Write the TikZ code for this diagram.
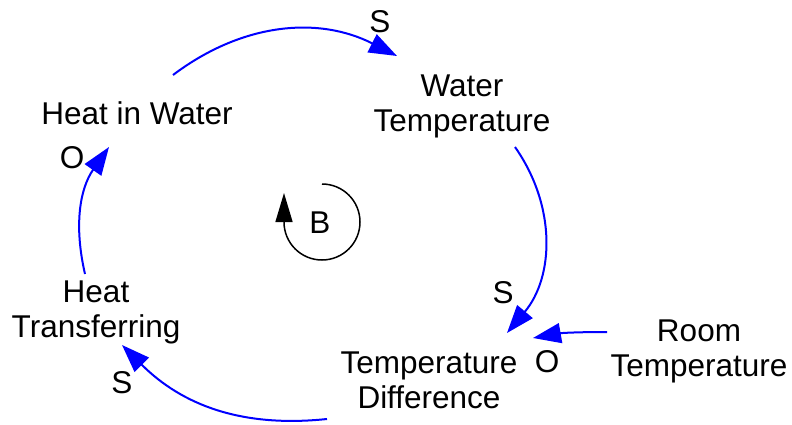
\documentclass[tikz,border=0pt]{standalone}
\usepackage{fontspec}
\setmainfont{Liberation Sans}
\usepackage{tikz}
\usetikzlibrary{arrows.meta, positioning}
\definecolor{cLink}{RGB}{0,0,255}
\newcommand{\varfont}{\fontsize{31.5}{35}\selectfont}
\tikzset{
	var/.style    ={align=center, inner sep=0pt, font=\varfont},
	pol/.style    ={inner sep=0pt, font=\varfont},
	link/.style   ={-{Triangle[length=28pt, width=20pt]}, draw=cLink, line width=2pt},
	loopsig/.style={-{Triangle[length=29pt, width=17pt]}, line width=1.5pt},
}

\begin{document}
\begin{tikzpicture}[x=1pt, y=1pt]
	\useasboundingbox (0,0) rectangle (792,424);
	% variables
	\node[var] (hw) at (137,311) {Heat in Water};
	\node[var] (wt) at (462,318) {Water\\ Temperature};
	\node[var] (td) at (429,44) {Temperature\\ Difference};
	\node[var] (rt) at (699,73) {Room\\ Temperature};
	\node[var] (ht) at (96,112) {Heat\\ Transferring};
	\node[pol] (loopB) at (320,201) {B};
	% polarities
	\node[pol] (p1) at (380,402) {S};
	\node[pol] (p2) at (503,131) {S};
	\node[pol] (p3) at (547,62) {O};
	\node[pol] (p4) at (122,41) {S};
	\node[pol] (p5) at (72,266) {O};
	% links
	\draw[link] ([shift={(36,38)}]hw.center) to[out=37, in=153] ([shift={(-65,50)}]wt.center);
	\draw[link] ([shift={(53,-41)}]wt.center) to[out=-55, in=50] ([shift={(78,47)}]td.center);
	\draw[link] ([shift={(-92,19)}]rt.center) to[out=180, in=10] ([shift={(104,42)}]td.center);
	\draw[link] ([shift={(-102,-39)}]td.center) to[out=186, in=-45] ([shift={(26,-33)}]ht.center);
	\draw[link] ([shift={(-11,38)}]ht.center) to[out=103, in=235] ([shift={(-28,-34)}]hw.center);
	% loop
	\draw[loopsig] ([shift={(2,39)}]loopB.center) arc[start angle=90, end angle=-180, radius=38] -- ++(0,29);
\end{tikzpicture}
\end{document}
